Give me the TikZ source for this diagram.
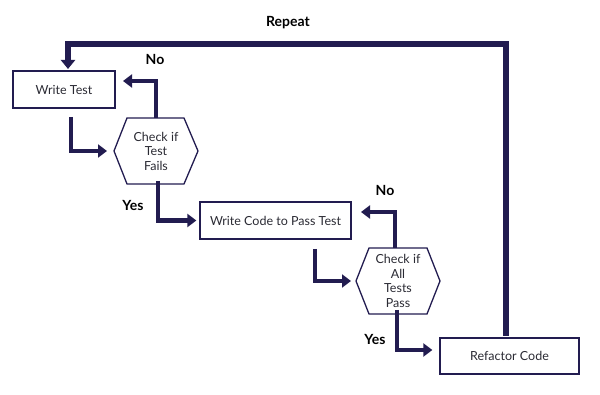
\documentclass[tikz,border=0pt]{standalone}
\usepackage{fontspec}
\setmainfont{Lato}
\usetikzlibrary{arrows.meta,shapes.geometric}
\definecolor{navy}{HTML}{221C50}
\definecolor{txt}{HTML}{2A2A33}
\tikzset{
  x=1pt,y=-1pt,
  boxnode/.style={draw=navy,line width=1.3pt,minimum height=37pt,inner sep=0pt,font=\fontsize{12.5}{14}\selectfont,text=txt},
  hextext/.style={font=\fontsize{12.5}{14.5}\selectfont,text=txt,align=center},
  hexline/.style={draw=navy,line width=1.3pt},
  flow/.style={draw=navy,line width=4.5pt,-{Triangle[length=9pt,width=13pt]}},
  lbl/.style={font=\bfseries\fontsize{14}{16}\selectfont,text=black}
}
\begin{document}
\begin{tikzpicture}
\useasboundingbox (0,0) rectangle (600,395);
\node[boxnode,minimum width=102pt] (wt) at (64,89.5) {Write Test};
\node[boxnode,minimum width=151pt] (wc) at (275.5,220.5) {Write Code to Pass Test};
\node[boxnode,minimum width=139pt,minimum height=36pt] (rc) at (509.5,356) {Refactor Code};
% hexagons
\draw[hexline] (114,151) -- (127,118) -- (184,118) -- (198,151) -- (184,184) -- (127,184) -- cycle;
\node[hextext] (h1) at (156,151) {Check if\\Test\\Fails};
\draw[hexline] (356,281) -- (369,248) -- (427,248) -- (440,281) -- (427,314) -- (369,314) -- cycle;
\node[hextext] (h2) at (398,281) {Check if\\All\\Tests\\Pass};
\coordinate (h1t) at (156,118);
\coordinate (h1b) at (158,184);
\coordinate (h1l) at (114,151);
\coordinate (h2t) at (395,248);
\coordinate (h2b) at (397,314);
\coordinate (h2l) at (356,281);
% connectors
\draw[flow] (71,117) |- ([xshift=-7pt]h1l);
\draw[flow] (h1t) |- (123,81);
\draw[flow] ([yshift=3pt]h1b) |- ([xshift=-3pt]wc.west);
\draw[flow] (315,249) |- ([xshift=-5pt]h2l);
\draw[flow] (h2t) |- (361,212);
\draw[flow] ([yshift=4pt]h2b) |- ([xshift=-7pt]rc.west |- 0,350);
\draw[draw=navy,line width=6pt,-{Triangle[length=9pt,width=14pt]}] (506,336) |- (68,44) -- (68,69);
% labels
\node[lbl] (lrep) at (288,23) {Repeat};
\node[lbl] (lno1) at (155,59) {No};
\node[lbl] (lyes1) at (133,205) {Yes};
\node[lbl] (lno2) at (385,190) {No};
\node[lbl] (lyes2) at (375,339) {Yes};
\end{tikzpicture}
\end{document}
